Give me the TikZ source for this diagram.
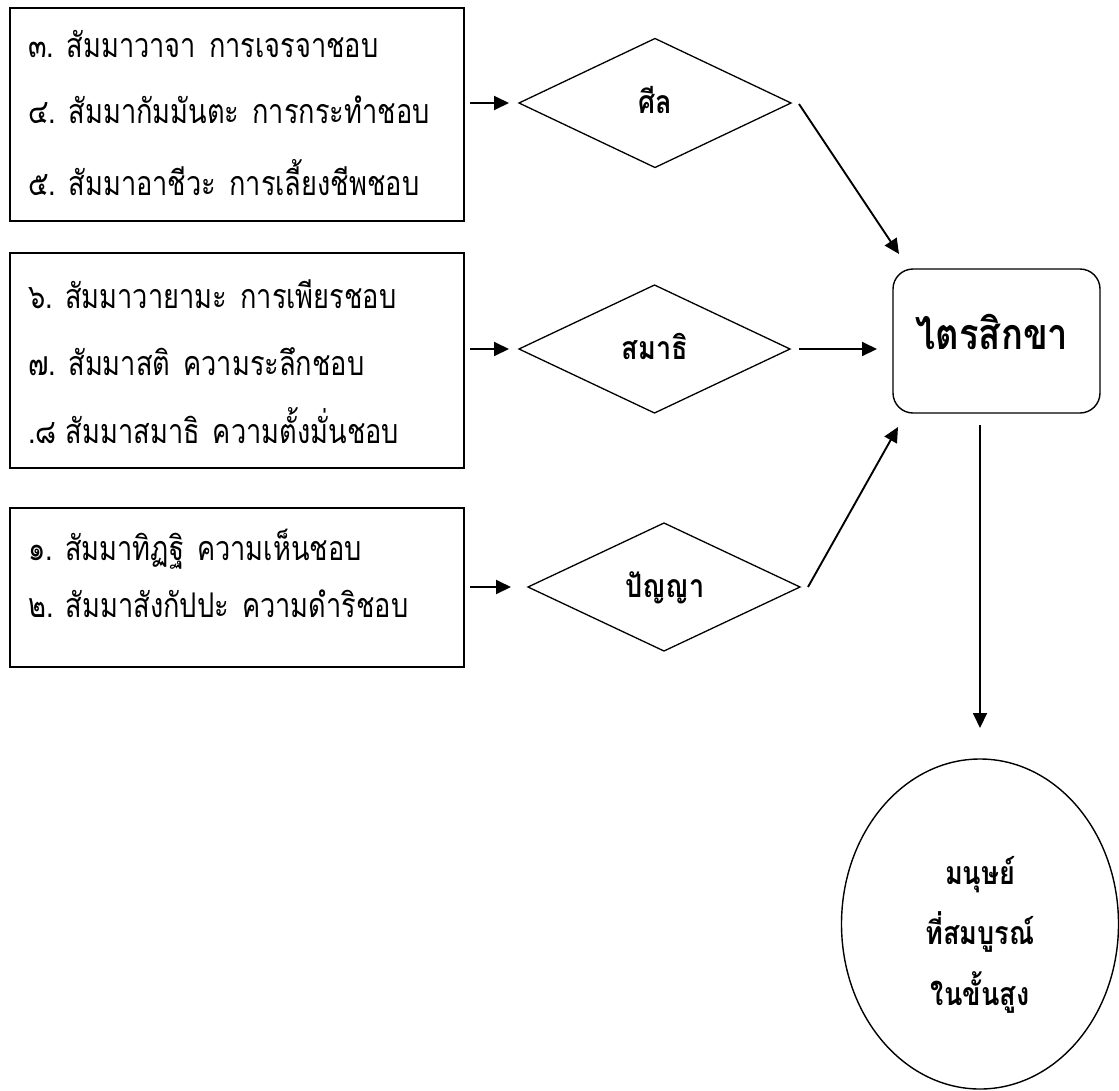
\documentclass[tikz,border=0pt]{standalone}
\usepackage{fontspec}
\newfontfamily\thai[Script=Thai,FakeStretch=0.8]{Loma}
\newfontfamily\thaib[Script=Thai,FakeStretch=0.845]{Loma}
\usetikzlibrary{shapes.geometric,arrows.meta,calc}
\tikzset{
  listbox/.style={draw,line width=1.6pt,inner sep=0pt,outer sep=0pt},
  item/.style={anchor=base west,inner sep=0pt,font=\thai\fontsize{34}{36}\selectfont},
  dia/.style={diamond,draw,line width=1.3pt,inner sep=0pt,outer sep=0pt},
  arr/.style={line width=1.9pt,-{Triangle[length=15pt,width=14pt]}},
  rbox/.style={draw,rounded corners=20pt,line width=1.4pt,inner sep=0pt,outer sep=0pt,minimum width=207pt,minimum height=144pt},
  lbl/.style={anchor=base,inner sep=0pt,font=\thaib\bfseries\fontsize{32}{34}\selectfont}
}
\begin{document}
\begin{tikzpicture}[x=1pt,y=-1pt]
\useasboundingbox (0,0) rectangle (1119,1090);
% list boxes
\node[listbox,minimum width=454pt,minimum height=213pt] (b1) at (237,114.5) {};
\node[listbox,minimum width=454pt,minimum height=215pt] (b2) at (237,360.5) {};
\node[listbox,minimum width=454pt,minimum height=159pt] (b3) at (237,587.5) {};
\node[item] (t11) at (28,57) {๓. สัมมาวาจา\hspace{13pt}การเจรจาชอบ};
\node[item] (t12) at (28,123) {๔. สัมมากัมมันตะ\hspace{13pt}การกระทำชอบ};
\node[item] (t13) at (28,195) {๕. สัมมาอาชีวะ\hspace{13pt}การเลี้ยงชีพชอบ};
\node[item] (t21) at (28,308) {๖. สัมมาวายามะ\hspace{13pt}การเพียรชอบ};
\node[item] (t22) at (28,375) {๗. สัมมาสติ\hspace{13pt}ความระลึกชอบ};
\node[item] (t23) at (28,443) {.๘ สัมมาสมาธิ\hspace{13pt}ความตั้งมั่นชอบ};
\node[item] (t31) at (28,560) {๑. สัมมาทิฏฐิ\hspace{13pt}ความเห็นชอบ};
\node[item] (t32) at (28,617) {๒. สัมมาสังกัปปะ\hspace{13pt}ความดำริชอบ};
% diamonds
\node[dia,minimum width=272pt,minimum height=129pt] (d1) at (655,103) {};
\node[dia,minimum width=271pt,minimum height=128pt] (d2) at (654.5,349) {};
\node[dia,minimum width=272pt,minimum height=128pt] (d3) at (664,587) {};
\node[lbl] (l1) at (655,113) {ศีล};
\node[lbl] (l2) at (655,359) {สมาธิ};
\node[lbl] (l3) at (665,597) {ปัญญา};
% center box
\node[rbox] (tri) at (996.5,341) {};
\node[anchor=base,inner sep=0pt,font=\thaib\bfseries\fontsize{43}{45}\selectfont] (tl) at (992,349) {ไตรสิกขา};
% ellipse
\node[ellipse,draw,line width=1.4pt,inner sep=0pt,outer sep=0pt,minimum width=277pt,minimum height=330pt] (ell) at (980,924) {};
\node[lbl] (e1) at (980,884) {มนุษย์};
\node[lbl] (e2) at (980,944) {ที่สมบูรณ์};
\node[lbl] (e3) at (980,1005) {ในขั้นสูง};
% connectors
\draw[arr,shorten <=6pt,shorten >=10pt] (b1.east |- d1.west) -- (d1.west);
\draw[arr,shorten <=6pt,shorten >=10pt] (b2.east |- d2.west) -- (d2.west);
\draw[arr,shorten <=6pt,shorten >=17pt] (b3.east |- d3.west) -- (d3.west);
\draw[arr] ($(d1.east)+(8,1)$) -- ($(tri.north west)+(6,-15)$);
\draw[arr,shorten <=9pt,shorten >=16pt] (d2.east) -- (d2.east -| tri.west);
\draw[arr] ($(d3.east)+(8,0)$) -- ($(tri.south west)+(5,14)$);
\draw[arr,shorten <=12pt,shorten >=31pt] (ell.north |- tri.south) -- (ell.north);
\end{tikzpicture}
\end{document}
